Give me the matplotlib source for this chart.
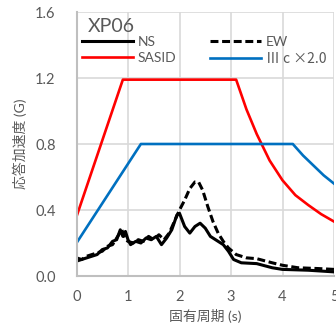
import numpy as np
import matplotlib
matplotlib.use("Agg")
import matplotlib.pyplot as plt

plt.rcParams['font.family'] = ['Lato', 'Noto Sans CJK JP', 'DejaVu Sans']

# 応答スペクトル (NS / EW)
ns_t = [0.0, 0.1, 0.2, 0.3, 0.4, 0.5, 0.6, 0.7, 0.78, 0.85, 0.9, 0.95, 1.0, 1.05,
        1.15, 1.25, 1.35, 1.45, 1.55, 1.65, 1.75, 1.85, 1.95, 2.0, 2.1, 2.2, 2.3,
        2.4, 2.5, 2.6, 2.7, 2.85, 2.95, 3.05, 3.2, 3.5, 3.8, 4.0, 4.5, 5.0]
ns_sa = [0.09, 0.10, 0.11, 0.12, 0.13, 0.16, 0.17, 0.21, 0.22, 0.28, 0.24, 0.27, 0.22, 0.19,
         0.21, 0.20, 0.23, 0.22, 0.24, 0.19, 0.23, 0.28, 0.37, 0.38, 0.30, 0.26, 0.30,
         0.32, 0.29, 0.24, 0.22, 0.19, 0.15, 0.10, 0.08, 0.075, 0.05, 0.04, 0.035, 0.025]

ew_t = [0.0, 0.1, 0.2, 0.3, 0.4, 0.5, 0.6, 0.7, 0.8, 0.88, 0.95, 1.0, 1.1, 1.2,
        1.3, 1.4, 1.5, 1.6, 1.7, 1.8, 1.9, 2.0, 2.1, 2.2, 2.3, 2.37, 2.45, 2.55,
        2.65, 2.75, 2.85, 2.95, 3.1, 3.3, 3.5, 3.8, 4.0, 4.3, 4.7, 5.0]
ew_sa = [0.11, 0.10, 0.12, 0.13, 0.14, 0.15, 0.18, 0.19, 0.24, 0.28, 0.22, 0.21, 0.20, 0.22,
         0.21, 0.24, 0.22, 0.25, 0.22, 0.26, 0.33, 0.40, 0.46, 0.53, 0.57, 0.57, 0.52, 0.42,
         0.33, 0.26, 0.21, 0.17, 0.13, 0.11, 0.105, 0.08, 0.065, 0.05, 0.045, 0.04]

# 設計用スペクトル
sasid_t = [0.0, 0.9, 3.1, 3.3, 3.5, 3.75, 4.0, 4.25, 4.5, 4.75, 5.0]
sasid_sa = [0.36, 1.19, 1.19, 1.01, 0.86, 0.70, 0.58, 0.49, 0.43, 0.375, 0.33]

c3_t = [0.0, 1.25, 4.2, 4.4, 4.6, 4.8, 5.0]
c3_sa = [0.20, 0.80, 0.80, 0.73, 0.67, 0.61, 0.56]

xticks = [0, 1, 2, 3, 4, 5]
yticks = [0.0, 0.4, 0.8, 1.2, 1.6]

gray = '#595959'

fig = plt.figure(figsize=(3.36, 3.36), dpi=100)
ax = fig.add_axes([76.5 / 336, 60 / 336, 257.5 / 336, 264 / 336])

ax.plot(ns_t, ns_sa, color='black', lw=2.2, label='NS', solid_joinstyle='round')
ax.plot(sasid_t, sasid_sa, color='#FF0000', lw=1.9, label='SASID')
ax.plot(ew_t, ew_sa, color='black', lw=2.2, dashes=(2.6, 1.2), label='EW')
ax.plot(c3_t, c3_sa, color='#0070C0', lw=1.9, label='Ⅲ c ×2.0')

ax.set_xlim(0, 5)
ax.set_ylim(0, 1.6)
ax.set_xticks(xticks)
ax.set_yticks(yticks)
ax.set_xticklabels([str(t) for t in xticks])
ax.set_yticklabels([f'{v:.1f}' for v in yticks])
ax.grid(True, color='#D9D9D9', lw=1.2)
ax.set_axisbelow(True)
ax.tick_params(length=0, labelsize=10.5, labelcolor=gray)
ax.tick_params(axis='y', pad=15)
ax.tick_params(axis='x', pad=10)
for s in ['top', 'right']:
    ax.spines[s].set_visible(False)
for s in ['left', 'bottom']:
    ax.spines[s].set_color('#BFBFBF')
    ax.spines[s].set_linewidth(1.5)

ax.set_xlabel('固有周期 (s)', fontsize=10, color=gray, labelpad=4)
ax.set_ylabel('応答加速度 (G)', fontsize=10, color=gray, labelpad=6)

ax.text(0.045, 0.924, 'XP06', transform=ax.transAxes, fontsize=14,
        color=gray, va='baseline', ha='left')

leg = ax.legend(loc='upper left', bbox_to_anchor=(0.02, 0.91), ncol=2,
                frameon=False, fontsize=10, handlelength=3.7, handletextpad=0.35,
                columnspacing=2.4, labelspacing=0.3, borderaxespad=0, borderpad=0)
for t in leg.get_texts():
    t.set_color(gray)
# ローマ数字と×は和文フォントで
leg.get_texts()[3].set_family(['Noto Sans CJK JP', 'DejaVu Sans'])

fig.savefig('out.png', dpi=100)
